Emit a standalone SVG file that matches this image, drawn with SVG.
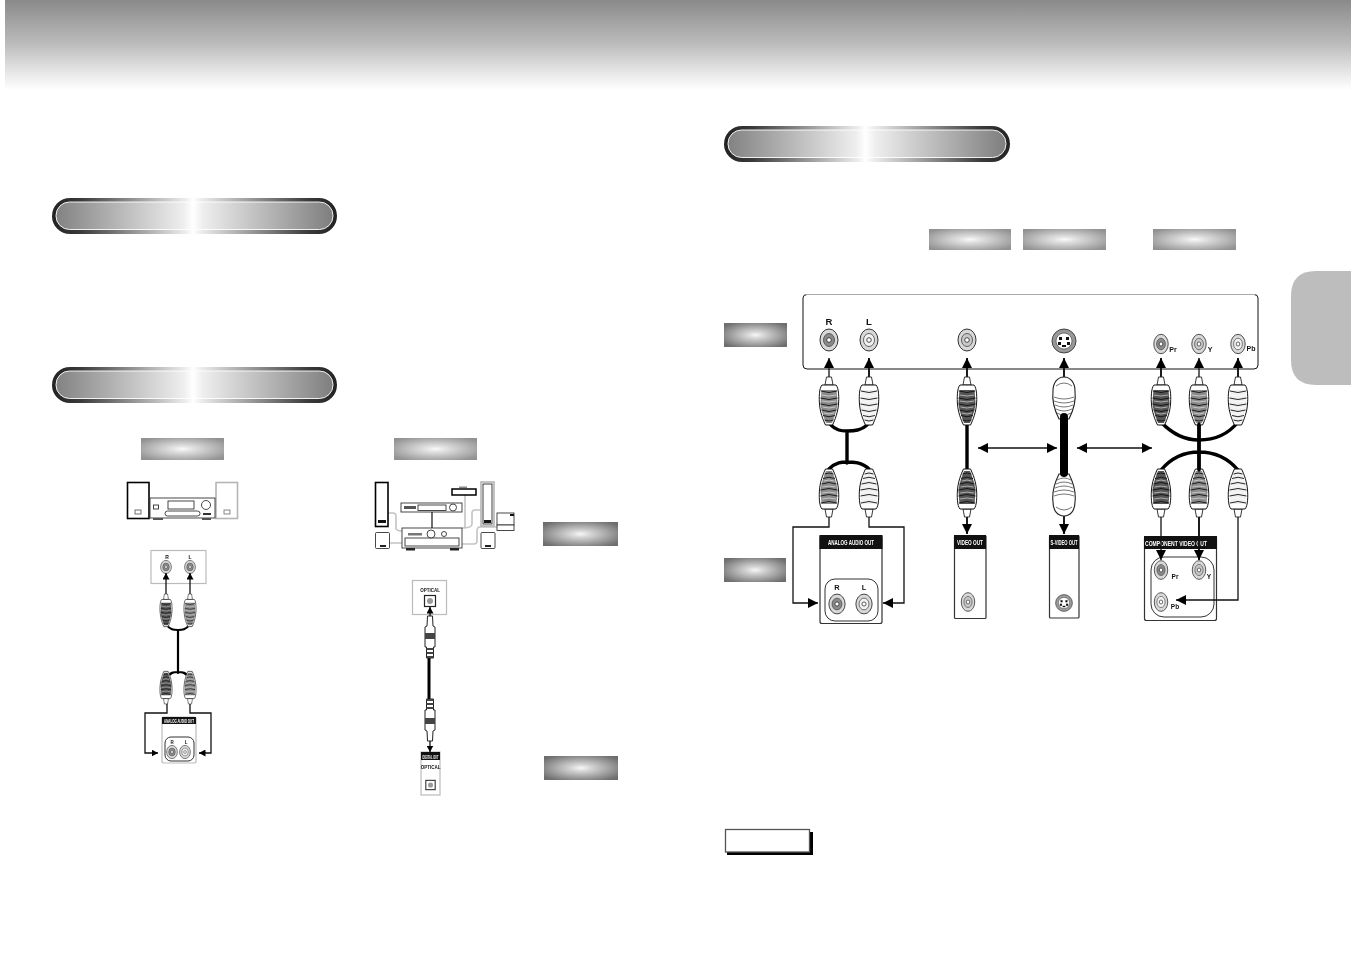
<svg xmlns="http://www.w3.org/2000/svg" width="1351" height="954" viewBox="0 0 1351 954">
<style>
text{font-family:"Liberation Sans",Arial,sans-serif;font-weight:bold;fill:#111;text-anchor:middle;filter:url(#gs)}
text.hd{fill:#fff}
.blk{fill:#111;stroke:none}
.box{fill:#fff;stroke:#333;stroke-width:1}
.frame{fill:none;stroke:#333;stroke-width:1}
.box2{fill:#fff;stroke:#333;stroke-width:1.2}
.pale{fill:#fff;stroke:#bbb;stroke-width:1.2}
.ln{fill:none;stroke:#111;stroke-width:1.3}
.ln2{fill:none;stroke:#111;stroke-width:1.9}
.cab{fill:none;stroke:#000;stroke-width:3.4;stroke-linecap:round}
.cabs{fill:none;stroke:#000;stroke-width:2.2;stroke-linecap:round}
.wire{fill:none;stroke:#c4c4c4;stroke-width:1.6}
.pd{color:#555}.pm{color:#8a8a8a}.pl{color:#f0f0f0}
.jd{color:#8a8a8a}.jm{color:#c8c8c8}.jl{color:#f2f2f2}
.dev{fill:#fff;stroke:#333;stroke-width:.9}
.spk{fill:#fff;stroke:#000;stroke-width:1.6}
.spg{fill:#fff;stroke:#b5b5b5;stroke-width:1.6}
</style>
<defs>
<filter id="gs" x="-10%" y="-10%" width="120%" height="120%"><feOffset dx="0" dy="0"/></filter>
<linearGradient id="hdr" x1="0" y1="0" x2="0" y2="1"><stop offset="0" stop-color="#8a8a8a"/><stop offset=".5" stop-color="#bdbdbd"/><stop offset=".8" stop-color="#e6e6e6"/><stop offset="1" stop-color="#fff"/></linearGradient>
<linearGradient id="po"><stop offset="0" stop-color="#222"/><stop offset=".1" stop-color="#3a3a3a"/><stop offset=".47" stop-color="#eee"/><stop offset=".495" stop-color="#fff"/><stop offset=".52" stop-color="#eee"/><stop offset=".9" stop-color="#3a3a3a"/><stop offset="1" stop-color="#222"/></linearGradient>
<linearGradient id="pi"><stop offset="0" stop-color="#828282"/><stop offset=".46" stop-color="#eee"/><stop offset=".495" stop-color="#fff"/><stop offset=".53" stop-color="#eee"/><stop offset="1" stop-color="#7e7e7e"/></linearGradient>
<radialGradient id="lg" cx=".5" cy=".5" r=".62"><stop offset="0" stop-color="#fafafa"/><stop offset=".2" stop-color="#e2e2e2"/><stop offset="1" stop-color="#929292"/></radialGradient>
<radialGradient id="dg" cx=".5" cy=".5" r=".62"><stop offset="0" stop-color="#f8f8f8"/><stop offset=".2" stop-color="#d8d8d8"/><stop offset="1" stop-color="#6e6e6e"/></radialGradient>
<marker id="ah" markerUnits="userSpaceOnUse" markerWidth="11" markerHeight="10" refX="10" refY="5" orient="auto"><path d="M0 0L10 5L0 10Z" fill="#000"/></marker>
<marker id="as" markerUnits="userSpaceOnUse" markerWidth="7" markerHeight="7" refX="6.500" refY="3.500" orient="auto"><path d="M0 0L6.500 3.500L0 7Z" fill="#000"/></marker>
<marker id="ab" markerUnits="userSpaceOnUse" markerWidth="11" markerHeight="10" refX="0" refY="5" orient="auto"><path d="M10 0L0 5L10 10Z" fill="#000"/></marker>
<g id="rca">
<path d="M-2.500 0L-4 8H4L2.500 0Z" fill="#fff" stroke="#222" stroke-width=".9"/>
<path d="M-7 8C-10 11-10 22-9.500 27C-9 35-6 43-3.500 48H3.500C6 43 9 35 9.500 27C10 22 10 11 7 8Z" fill="#fff" stroke="#111" stroke-width="1"/>
<path d="M-7.500 13H7.500L8.500 26C8 33 5 41 3 46H-3C-5 41-8 33-8.500 26Z" fill="currentColor"/>
<path d="M-8 14Q0 17 8 14M-8.500 21Q0 24 8.500 21M-8.500 27Q0 30 8.500 27M-7.500 33Q0 36 7.500 33M-6 38.500Q0 41 6 38.500M-4.500 43Q0 45 4.500 43" fill="none" stroke="#111" stroke-width=".9"/>
<path d="M-7 18Q0 20 7 18M-7 24Q0 26 7 24M-6.500 30Q0 32 6.500 30M-5 36Q0 38 5 36" fill="none" stroke="#fff" stroke-width=".7" opacity=".75"/>
</g>
<g id="svp">
<path d="M-11 14C-11 5-6 0 0 0C6 0 11 5 11 14C12 22 10 32 5 42H-5C-10 32-12 22-11 14Z" fill="#fff" stroke="#222" stroke-width="1.100"/>
<path d="M-8 9Q0 3 8 9M-10 20Q0 24 10 20M-10 24Q0 28 10 24M-9 28Q0 32 9 28M-8 32Q0 36 8 32M-7 36Q0 40 7 36" fill="none" stroke="#666" stroke-width=".9"/>
</g>
<g id="jack"><ellipse rx="9" ry="11" fill="#d8d8d8" stroke="#333" stroke-width="1"/><ellipse rx="5.500" ry="6.500" fill="currentColor" stroke="#444" stroke-width=".8"/><circle r="2.300" fill="#fff" stroke="#222" stroke-width=".8"/></g>
<g id="sj"><circle r="12" fill="#999" stroke="#444" stroke-width="1"/><circle r="8" fill="#fff" stroke="#333" stroke-width=".6"/><rect x="-5" y="-4" width="3" height="3" fill="#111"/><rect x="2" y="-4" width="3" height="3" fill="#111"/><rect x="-6" y="1" width="3" height="3" fill="#111"/><rect x="3" y="1" width="3" height="3" fill="#111"/><rect x="-2" y="4" width="4" height="2" fill="#111"/></g>
<g id="opp"><path d="M-2.500 0H2.500L3 10L5 11V31H3.500V42H-3.500V31H-5V11L-3 10Z" fill="#fff" stroke="#222" stroke-width="1"/><path d="M-5 17H5V23H-5ZM-3.500 32H3.500V34H-3.500ZM-3.500 36H3.500V38H-3.500ZM-3.500 40H3.500V42H-3.500Z" fill="#444"/></g>
<g id="ops"><rect x="-5.500" y="-5.500" width="11" height="11" fill="#fff" stroke="#222" stroke-width="1.200"/><circle r="3" fill="#999"/></g>
</defs>
<rect width="1351" height="954" fill="#fff"/>
<rect id="header-band" x="5" y="0" width="1346" height="90" fill="url(#hdr)"/>
<path id="side-tab" d="M1351 271H1316Q1291 271 1291 296V360Q1291 385 1316 385H1351Z" fill="#bdbdbd"/>

<g id="pill-1"><rect x="52" y="198" width="285" height="36" rx="18" fill="url(#po)"/><rect x="56" y="202" width="277" height="27.500" rx="13.500" fill="url(#pi)" stroke="#fff" stroke-width=".9"/></g>
<g id="pill-2"><rect x="52" y="367" width="285" height="36" rx="18" fill="url(#po)"/><rect x="56" y="371" width="277" height="27.500" rx="13.500" fill="url(#pi)" stroke="#fff" stroke-width=".9"/></g>
<g id="pill-3"><rect x="724" y="126" width="286" height="36" rx="18" fill="url(#po)"/><rect x="728" y="130" width="278" height="27.500" rx="13.500" fill="url(#pi)" stroke="#fff" stroke-width=".9"/></g>

<g id="labels">
<rect id="label-1" x="141" y="438" width="83" height="22" fill="url(#lg)"/>
<rect id="label-2" x="394" y="438" width="83" height="22" fill="url(#lg)"/>
<rect id="label-3" x="543" y="522" width="75" height="24" fill="url(#dg)"/>
<rect id="label-4" x="544" y="756" width="74" height="24" fill="url(#dg)"/>
<rect id="label-5" x="929" y="229" width="82" height="21" fill="url(#lg)"/>
<rect id="label-6" x="1023" y="229" width="83" height="21" fill="url(#lg)"/>
<rect id="label-7" x="1153" y="229" width="83" height="21" fill="url(#lg)"/>
<rect id="label-8" x="724" y="323" width="63" height="24" fill="url(#dg)"/>
<rect id="label-9" x="724" y="558" width="62" height="24" fill="url(#dg)"/>
</g>

<g id="note"><rect x="727" y="832" width="86" height="23" fill="#000"/><rect x="725.500" y="829.500" width="84" height="22.500" fill="#fff" stroke="#555" stroke-width="1.300"/></g>

<g id="main-panel">
<path d="M803 298V365Q803 369 807 369H1254Q1258 369 1258 365V298Q1258 294.500 1254 294.500H807Q803 294.500 803 298Z" fill="#fff" stroke="#111" stroke-width="1"/>
<path d="M806 294.500H1255" stroke="#aaa" stroke-width="1.200"/>
<use href="#jack" class="jd" x="829" y="340"/>
<use href="#jack" class="jl" x="869" y="340"/>
<use href="#jack" class="jm" x="967" y="340"/>
<use href="#sj" x="1064" y="341"/>
<g transform="translate(1161 344) scale(.8 .88)"><use href="#jack" class="jd"/></g>
<g transform="translate(1199 344) scale(.8 .88)"><use href="#jack" class="jm"/></g>
<g transform="translate(1238 344) scale(.8 .88)"><use href="#jack" class="jl"/></g>
<text x="829" y="325" font-size="9.500">R</text>
<text x="869" y="325" font-size="9.500">L</text>
<text x="1173" y="352" font-size="7">Pr</text>
<text x="1210" y="352" font-size="7">Y</text>
<text x="1251" y="351" font-size="7">Pb</text>
</g>

<g id="out-audio">
<rect class="box2" x="820" y="535.500" width="62" height="88" rx="2"/>
<rect class="blk" x="819.500" y="535" width="63" height="14"/>
<text class="hd" x="851" y="545" font-size="7.500" textLength="46" lengthAdjust="spacingAndGlyphs">ANALOG AUDIO OUT</text>
<rect class="box" x="825" y="579" width="53" height="42" rx="10"/>
<g transform="translate(837 604) scale(.9)"><use href="#jack" class="jd"/></g>
<g transform="translate(864 604) scale(.9)"><use href="#jack" class="jl"/></g>
<text x="837" y="590" font-size="7.500">R</text>
<text x="864" y="590" font-size="7.500">L</text>
</g>
<g id="out-video">
<rect class="box2" x="954.500" y="535.500" width="31.500" height="83" rx="1"/>
<rect class="blk" x="954" y="535" width="32" height="14"/>
<text class="hd" x="970" y="545" font-size="7.500" textLength="26" lengthAdjust="spacingAndGlyphs">VIDEO OUT</text>
<g transform="translate(968 602) scale(.75 .85)"><use href="#jack" class="jm"/></g>
</g>
<g id="out-svideo">
<rect class="box2" x="1049.500" y="535.500" width="29.500" height="82.500" rx="1"/>
<rect class="blk" x="1049" y="535" width="30" height="14"/>
<text class="hd" x="1064" y="545" font-size="7.500" textLength="27" lengthAdjust="spacingAndGlyphs">S-VIDEO OUT</text>
<g transform="translate(1064 603) scale(.7)"><use href="#sj"/></g>
</g>
<g id="out-component">
<rect class="box2" x="1144.500" y="536.500" width="72" height="84" rx="2"/>
<rect class="blk" x="1144" y="536" width="73" height="13"/>
<text class="hd" x="1176" y="546" font-size="7.500" textLength="62" lengthAdjust="spacingAndGlyphs">COMPONENT VIDEO OUT</text>
<rect class="frame" x="1151" y="557" width="63" height="60" rx="13"/>
<g transform="translate(1161 570) scale(.75 .85)"><use href="#jack" class="jd"/></g>
<g transform="translate(1199 570) scale(.75 .85)"><use href="#jack" class="jm"/></g>
<g transform="translate(1161 602) scale(.75 .85)"><use href="#jack" class="jl"/></g>
<text x="1175" y="579" font-size="6.500">Pr</text>
<text x="1209" y="579" font-size="6.500">Y</text>
<text x="1175" y="609" font-size="6.500">Pb</text>
</g>

<g id="stereo-system">
<rect class="spk" x="127.500" y="482.500" width="21.500" height="36"/>
<rect x="135" y="510" width="6" height="4" fill="#fff" stroke="#333" stroke-width=".7"/>
<rect class="spg" x="216" y="482.500" width="21.500" height="36"/>
<rect x="224" y="510" width="6" height="4" fill="#fff" stroke="#555" stroke-width=".7"/>
<rect class="dev" x="150" y="498" width="65" height="20"/>
<rect class="dev" x="168" y="501" width="26" height="8"/>
<rect class="dev" x="153.500" y="505" width="5" height="4"/>
<rect class="dev" x="165" y="511" width="35" height="5" rx="2.500"/>
<circle class="dev" cx="206" cy="505" r="4.500" stroke-width="1.200"/>
<rect x="203" y="513" width="8" height="2" fill="#333"/>
<rect x="153" y="518" width="10" height="2" fill="#555"/>
<rect x="202" y="518" width="9" height="2" fill="#555"/>
</g>

<g id="audio-panel-left">
<rect class="pale" x="151" y="550.500" width="55" height="33"/>
<g transform="translate(166 567) scale(.6)"><use href="#jack" class="jd"/></g>
<g transform="translate(190 567) scale(.6)"><use href="#jack" class="jd"/></g>
<text x="167" y="559" font-size="5">R</text>
<text x="190" y="559" font-size="5">L</text>
</g>
<g id="audio-out-left">
<rect class="pale" x="162" y="717" width="34" height="46" rx="2"/>
<rect class="blk" x="162" y="717" width="34" height="7"/>
<text class="hd" x="179" y="723" font-size="5" textLength="30" lengthAdjust="spacingAndGlyphs">ANALOG AUDIO OUT</text>
<rect class="box" x="165" y="737" width="29" height="24" rx="6"/>
<g transform="translate(172 752) scale(.6)"><use href="#jack" class="jd"/></g>
<g transform="translate(185 752) scale(.6)"><use href="#jack" class="jl"/></g>
<text x="172" y="744" font-size="4.500">R</text>
<text x="186" y="744" font-size="4.500">L</text>
</g>

<g id="home-theatre">
<path class="wire" d="M388 513H393Q396 513 396 516V528Q396 531 402 531M390 543H402M462 544H474Q477 544 477 541V531Q477 527 480 527H497M481 510H475Q472 510 472 513V524Q472 528 462 528M465 494V528"/>
<rect class="spk" x="375.500" y="482.500" width="12.500" height="44"/>
<rect x="378" y="520" width="8" height="3" fill="#111"/>
<rect class="spg" x="481" y="482" width="13" height="44"/>
<rect x="483" y="484" width="9" height="40" fill="#fff" stroke="#111" stroke-width=".8"/>
<rect x="484" y="520" width="7" height="3" fill="#111"/>
<rect class="dev" x="375.500" y="532.500" width="14" height="16" rx="1"/>
<rect x="380" y="545" width="6" height="2" fill="#222"/>
<rect class="dev" x="481" y="532.500" width="14" height="16" rx="1"/>
<rect x="485" y="545" width="6" height="2" fill="#222"/>
<rect x="452" y="489" width="24" height="6" fill="#fff" stroke="#000" stroke-width="1.500"/>
<rect x="459" y="486.500" width="8" height="1.500" fill="#888"/>
<rect class="dev" x="401" y="503" width="61" height="9"/>
<rect class="dev" x="418" y="505" width="28" height="5.500"/>
<circle class="dev" cx="453" cy="507.500" r="3.500"/>
<rect x="404" y="506" width="12" height="3" fill="#555"/>
<rect class="dev" x="402" y="528" width="60" height="20"/>
<rect class="dev" x="405" y="538" width="54" height="8"/>
<circle class="dev" cx="431" cy="534" r="4"/>
<circle class="dev" cx="444" cy="534" r="2.500"/>
<rect x="408" y="533" width="14" height="2.500" fill="#777"/>
<rect x="406" y="548" width="9" height="2.500" fill="#222"/>
<rect x="450" y="548" width="9" height="2.500" fill="#222"/>
<rect class="dev" x="497" y="513" width="17" height="12"/>
<rect class="dev" x="497" y="525" width="17" height="5.500"/>
<rect x="510" y="514" width="4" height="2" fill="#111"/>
<path d="M432 512V528" fill="none" stroke="#111" stroke-width="1.200"/>
</g>

<g id="optical-top">
<rect class="pale" x="412.500" y="580.500" width="34" height="34"/>
<text x="430" y="592" font-size="4.500">OPTICAL</text>
<use href="#ops" x="430" y="601"/>
</g>
<g id="optical-bottom">
<rect class="pale" x="421" y="752" width="19" height="43"/>
<rect class="blk" x="421" y="752" width="19" height="8"/>
<text class="hd" x="430.500" y="758.500" font-size="4.500" textLength="16" lengthAdjust="spacingAndGlyphs">DIGITAL OUT</text>
<text x="430.500" y="769" font-size="4.500">OPTICAL</text>
<g transform="translate(430.500 785) scale(.85)"><use href="#ops"/></g>
</g>

<g id="connectors">
<path class="cab" d="M829 423C836 431 842 431 847 431C853 431 862 431 869 423M847 431V463M829 469C836 462 842 462 847 462C853 462 862 462 869 469"/>
<path class="cab" d="M967 422V470"/>
<path class="cab" d="M1161 422C1175 437 1188 440 1199 440C1212 440 1226 437 1238 422M1199 422V470M1161 470C1173 456 1186 452 1199 452C1212 452 1226 456 1238 470"/>
<path class="ln" marker-end="url(#ah)" d="M829 378V358"/>
<path class="ln2" marker-end="url(#ah)" d="M869 378V358"/>
<path class="ln2" marker-end="url(#ah)" d="M967 378V358"/>
<path class="ln2" marker-end="url(#ah)" d="M1064 378V358"/>
<path class="ln2" marker-end="url(#ah)" d="M1161 378V358"/>
<path class="ln" marker-end="url(#ah)" d="M1199 378V358"/>
<path class="ln2" marker-end="url(#ah)" d="M1238 378V358"/>
<path class="ln" marker-end="url(#ah)" d="M829 516V527H793V603H818"/>
<path class="ln" marker-end="url(#ah)" d="M869 516V527H904V603H883"/>
<path class="ln2" marker-end="url(#ah)" d="M967 516V534"/>
<path class="ln2" marker-end="url(#ah)" d="M1064 516V534"/>
<path class="ln" marker-end="url(#ah)" d="M1161 516V560"/>
<path class="ln2" marker-end="url(#ah)" d="M1199 516V560"/>
<path class="ln" marker-end="url(#ah)" d="M1238 516V600H1176"/>
<path class="ln" marker-start="url(#ab)" marker-end="url(#ah)" d="M978 448H1057"/>
<path class="ln" marker-start="url(#ab)" marker-end="url(#ah)" d="M1077 448H1152"/>
<path class="cabs" d="M166 624C170 630 174 630 178 630C182 630 186 630 190 624M178 630V673M166 679C170 672 174 672 178 672C182 672 186 672 190 679"/>
<path class="ln" marker-end="url(#as)" d="M166 595V573"/>
<path class="ln" marker-end="url(#as)" d="M190 595V573"/>
<path class="ln" marker-end="url(#as)" d="M167 703V713H145V753H158"/>
<path class="ln" marker-end="url(#as)" d="M190 703V713H211V753H199"/>
<path d="M429 658V699" fill="none" stroke="#000" stroke-width="3"/>
<path class="ln" marker-end="url(#as)" d="M430 621V607"/>
<path class="ln" marker-end="url(#as)" d="M430 741V752"/>
</g>

<g id="plugs-audio-main">
<use href="#rca" class="pm" transform="translate(829 377)"/>
<use href="#rca" class="pl" transform="translate(869 377)"/>
<use href="#rca" class="pm" transform="translate(829 517) scale(1 -1)"/>
<use href="#rca" class="pl" transform="translate(869 517) scale(1 -1)"/>
</g>
<g id="plugs-video-main">
<use href="#rca" class="pd" transform="translate(967 377)"/>
<use href="#rca" class="pd" transform="translate(967 517) scale(1 -1)"/>
</g>
<g id="plugs-svideo-main">
<use href="#svp" transform="translate(1064 377)"/>
<use href="#svp" transform="translate(1064 516) scale(1 -1)"/>
<path d="M1064 417V473" fill="none" stroke="#000" stroke-width="8" stroke-linecap="round"/>
</g>
<g id="plugs-component-main">
<use href="#rca" class="pd" transform="translate(1161 377)"/>
<use href="#rca" class="pm" transform="translate(1199 377)"/>
<use href="#rca" class="pl" transform="translate(1238 377)"/>
<use href="#rca" class="pd" transform="translate(1161 517) scale(1 -1)"/>
<use href="#rca" class="pm" transform="translate(1199 517) scale(1 -1)"/>
<use href="#rca" class="pl" transform="translate(1238 517) scale(1 -1)"/>
<path class="cab" d="M1199 424V470"/>
</g>
<g id="plugs-left">
<g transform="translate(166 594) scale(.62 .68)"><use href="#rca" class="pd"/></g>
<g transform="translate(190 594) scale(.62 .68)"><use href="#rca" class="pm"/></g>
<g transform="translate(166 704) scale(.62 -.68)"><use href="#rca" class="pd"/></g>
<g transform="translate(190 704) scale(.62 -.68)"><use href="#rca" class="pm"/></g>
</g>
<g id="optical-plugs">
<use href="#opp" x="430" y="616"/>
<g transform="translate(430 741) scale(1 -1)"><use href="#opp"/></g>
</g>
</svg>
